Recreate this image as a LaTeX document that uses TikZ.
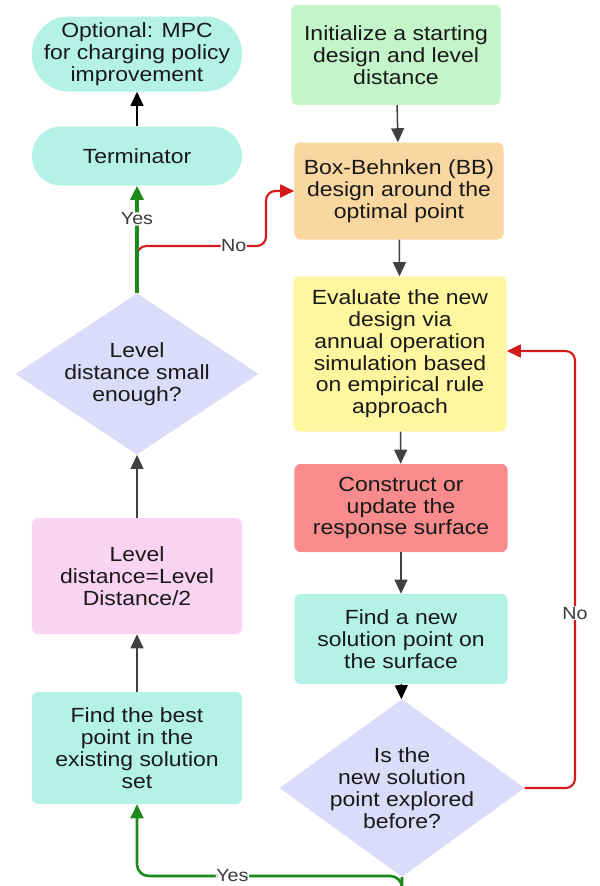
\documentclass[tikz,border=0pt]{standalone}
\usepackage{fontspec}
\setmainfont{Liberation Sans}[FakeStretch=1.12]
\usetikzlibrary{shapes.geometric,arrows.meta}
\definecolor{mint}{HTML}{B4F2E6}
\definecolor{initgreen}{HTML}{C3F5C9}
\definecolor{bborange}{HTML}{FAD6A0}
\definecolor{evalyellow}{HTML}{FFF6A0}
\definecolor{salmon}{HTML}{F88C8C}
\definecolor{pink}{HTML}{FAD2F2}
\definecolor{lav}{HTML}{DCDCFA}
\definecolor{arrowgrey}{HTML}{404040}
\definecolor{yesgreen}{HTML}{1B8A1B}
\definecolor{nored}{HTML}{D41A1A}
\definecolor{lblgrey}{HTML}{3A3A3A}

\begin{document}
\begin{tikzpicture}[x=0.03cm, y=-0.03cm,
    txt/.style={align=center, font=\fontsize{17.5}{18.6}\selectfont, text=black!90},
    box/.style={txt, rounded corners=5pt, inner sep=2pt},
    term/.style={txt, fill=mint, inner sep=0pt, minimum width=6.3cm},
    decision/.style={txt, diamond, fill=lav, inner sep=-10pt},
    arr/.style={draw=arrowgrey, line width=1.3pt, -{Triangle[width=11pt,length=12pt]}},
    yes/.style={draw=yesgreen, line width=2.2pt, rounded corners=10pt, -{Triangle[width=11pt,length=12pt]}},
    no/.style={draw=nored, line width=1.8pt, rounded corners=8pt, -{Triangle[width=11pt,length=12pt]}},
    lbl/.style={fill=white, text=lblgrey, font=\fontsize{15}{16}\selectfont, inner sep=0.5pt}]
    \useasboundingbox (0,0) rectangle (600,886);
    % left column
    \node [term, rounded corners=1.1cm, minimum height=2.25cm] at (137,54) (a) {Optional: MPC\\for charging policy\\improvement};
    \node [term, rounded corners=0.88cm, minimum height=1.77cm] at (137,156) (b) {Terminator};
    \node [decision, minimum width=7.29cm, minimum height=4.26cm] at (137,374) (c) {Level\\distance small\\enough?};
    \node [box, fill=pink, minimum width=6.3cm, minimum height=3.48cm] at (137,576) (d) {Level\\distance=Level\\Distance/2};
    \node [box, fill=mint, minimum width=6.3cm, minimum height=3.36cm] at (137,748) (e) {Find the best\\point in the\\existing solution\\set};
    % right column
    \node [box, fill=initgreen, minimum width=6.27cm, minimum height=3cm] at (396,55) (f) {Initialize a starting\\design and level\\distance};
    \node [box, fill=bborange, minimum width=6.27cm, minimum height=2.91cm] at (399,191) (g) {Box-Behnken (BB)\\design around the\\optimal point};
    \node [box, fill=evalyellow, minimum width=6.39cm, minimum height=4.65cm] at (400,354) (h) {Evaluate the new\\design via\\annual operation\\simulation based\\on empirical rule\\approach};
    \node [box, fill=salmon, minimum width=6.39cm, minimum height=2.64cm] at (401,508) (i) {Construct or\\update the\\response surface};
    \node [box, fill=mint, minimum width=6.39cm, minimum height=2.7cm] at (401,639) (j) {Find a new\\solution point on\\the surface};
    \node [decision, minimum width=7.35cm, minimum height=4.32cm] at (402,788) (k) {Is the\\new solution\\point explored\\before?};
    % connectors
    \path [arr] (f) -- (g);
    \path [arr] (g) -- (h);
    \path [arr] (h) -- (i);
    \path [arr] (i) -- (j);
    \path [arr, draw=black] (j) -- (k);
    \path [no] (k.east) -- (575,788) -- node [lbl, pos=0.4] (n1) {No} (575,351) -- (h.east |- 0,351);
    \path [yes] (k.south) -- (402,876) -- node [lbl, pos=0.64] (y1) {Yes} (137,876) -- (e.south);
    \path [arr] (e) -- (d);
    \path [arr] (d) -- (c);
    \path [no] (c.north) -- (137,246) -- node [lbl, pos=0.75] (n2) {No} (266,246) -- (266,191) -- (g.west);
    \path [yes, line width=2.8pt] (c.north) -- node [lbl, pos=0.69] (y2) {Yes} (b.south);
    \path [arr, draw=black] (b) -- (a);
\end{tikzpicture}
\end{document}
